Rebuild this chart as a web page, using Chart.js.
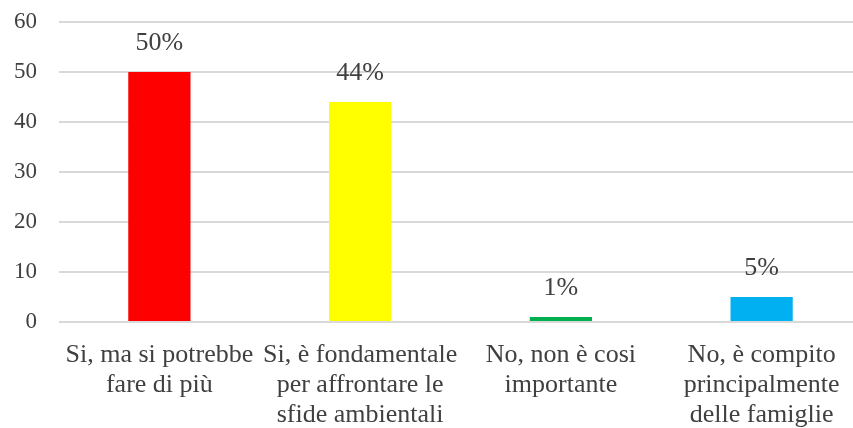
<!DOCTYPE html>
<html>
<head>
<meta charset="utf-8">
<script src="https://cdn.jsdelivr.net/npm/chart.js@4/dist/chart.umd.min.js"></script>
<style>
  html, body { margin: 0; padding: 0; background: #fff; overflow: hidden; }
  #wrap { width: 862px; height: 428px; }
</style>
</head>
<body>
<div id="wrap"><canvas id="c" width="862" height="428"></canvas></div>
<script>
// Risposte (una per barra) e percentuali
const categories = [
  ["Si, ma si potrebbe", "fare di più"],
  ["Si, è fondamentale", "per affrontare le", "sfide ambientali"],
  ["No, non è cosi", "importante"],
  ["No, è compito", "principalmente", "delle famiglie"]
];
const values = [50, 44, 1, 5];
const barColors = ["#ff0000", "#ffff00", "#00b050", "#00b0f0"];
const yTicks = [0, 10, 20, 30, 40, 50, 60];

const SERIF = "'Liberation Serif', 'Times New Roman', serif";
const TEXT = "#404040";

// Etichette percentuali sopra ogni barra
const valueLabels = {
  id: "valueLabels",
  afterDatasetsDraw(chart) {
    const ctx = chart.ctx;
    const meta = chart.getDatasetMeta(0);
    ctx.save();
    ctx.font = "26px " + SERIF;
    ctx.fillStyle = TEXT;
    ctx.textAlign = "center";
    ctx.textBaseline = "middle";
    meta.data.forEach((bar, i) => {
      ctx.fillText(values[i] + "%", bar.x, bar.y - 29);
    });
    ctx.restore();
  }
};

new Chart(document.getElementById("c"), {
  type: "bar",
  data: {
    labels: categories,
    datasets: [{
      data: values,
      backgroundColor: barColors,
      borderWidth: 0,
      barPercentage: 0.31,
      categoryPercentage: 1
    }]
  },
  options: {
    responsive: false,
    animation: false,
    layout: { padding: { top: 22, right: 0, bottom: 0, left: 0 } },
    plugins: { legend: { display: false }, tooltip: { enabled: false } },
    scales: {
      x: {
        grid: { display: false, drawTicks: false },
        border: { display: false },
        ticks: {
          color: TEXT,
          font: { family: SERIF, size: 26, lineHeight: 1.15 },
          padding: 18,
          maxRotation: 0,
          autoSkip: false
        },
        afterFit(scale) { scale.height = 106; }
      },
      y: {
        min: 0,
        max: 60,
        afterBuildTicks(scale) { scale.ticks = yTicks.map(v => ({ value: v })); },
        // invisible tick marks keep the labels clear of the plot
        grid: { color: "#d9d9d9", lineWidth: 2, drawTicks: true, tickLength: 22, tickColor: "rgba(0,0,0,0)" },
        border: { display: false },
        ticks: {
          color: TEXT,
          font: { family: SERIF, size: 23 },
          padding: 0
        },
        afterFit(scale) { scale.width = 59; }
      }
    }
  },
  plugins: [valueLabels]
});
</script>
</body>
</html>
